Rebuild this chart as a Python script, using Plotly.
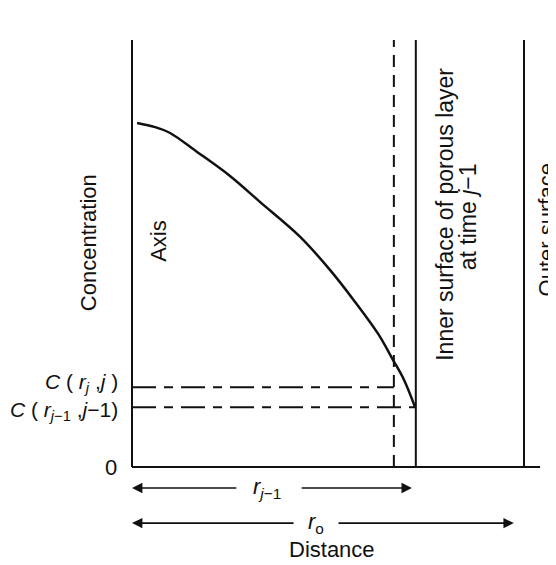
import plotly.graph_objects as go

# ---- data (dimensionless distance / concentration units) ----
curve_r = [0.013, 0.059, 0.097, 0.166, 0.250, 0.327, 0.429, 0.505, 0.569, 0.628, 0.666, 0.694, 0.722]
curve_c = [1.000, 0.988, 0.971, 0.916, 0.846, 0.770, 0.669, 0.573, 0.480, 0.387, 0.311, 0.253, 0.174]

r_j = 0.668        # new inner surface (dashed)
r_jm1 = 0.724      # inner surface of porous layer at time j-1
r_o = 1.0          # outer surface
C_j = 0.232        # C(r_j, j)
C_jm1 = 0.174      # C(r_{j-1}, j-1)
y_top = 1.241
x_end = 1.041

FONT = "Liberation Sans, Arial, Helvetica, sans-serif"
BLACK = "#111111"

fig = go.Figure()

def line(xs, ys, width=2, dash="solid"):
    fig.add_trace(go.Scatter(x=xs, y=ys, mode="lines",
                             line=dict(color=BLACK, width=width, dash=dash),
                             hoverinfo="skip", showlegend=False))

# axes
line([0, 0], [0, y_top], 2)
line([0, x_end], [0, 0], 2)
# surfaces
line([r_j, r_j], [0, y_top], 2, "12px,8px")
line([r_jm1, r_jm1], [0, y_top], 2)
line([r_o, r_o], [0, y_top], 2)
# concentration levels
line([0, r_j], [C_j, C_j], 2, "24px,8px,9px,8px")
line([0, r_jm1], [C_jm1, C_jm1], 2, "24px,8px,9px,8px")
# concentration profile
fig.add_trace(go.Scatter(x=curve_r, y=curve_c, mode="lines",
                         line=dict(color=BLACK, width=2.5, shape="spline", smoothing=1.0),
                         hoverinfo="skip", showlegend=False))

ann = []
def text(x, y, s, size=22, angle=0, xanchor="center", yanchor="middle"):
    ann.append(dict(x=x, y=y, xref="x", yref="y", text=s, showarrow=False,
                    textangle=angle, xanchor=xanchor, yanchor=yanchor,
                    font=dict(family=FONT, size=size, color=BLACK)))

def arrow(x_tail, x_head, y):
    ann.append(dict(x=x_head, y=y, ax=x_tail, ay=y, xref="x", yref="y",
                    axref="x", ayref="y", text="", showarrow=True,
                    arrowhead=2, arrowsize=1.3, arrowwidth=1.6, arrowcolor=BLACK))

text(-0.112, 0.651, "Concentration", angle=-90)
text(0.066, 0.657, "Axis", angle=-90)
text(0.800, 0.735, "Inner surface of porous layer", size=23, angle=-90)
text(0.858, 0.727, "at time <i>j</i>−1", size=23, angle=-90)
text(1.058, 0.690, "Outer surface", angle=-90)
text(0.510, -0.241, "Distance")
text(-0.033, 0.0, "0", xanchor="right")
text(-0.031, C_j + 0.012, "<i>C</i> ( <i>r<sub>j</sub></i> ,<i>j</i> )", size=21, xanchor="right")
text(-0.031, C_jm1 - 0.012, "<i>C</i> ( <i>r<sub>j</sub></i><sub>−1</sub> ,<i>j</i>−1)", size=21, xanchor="right")

y_a1 = -0.061
y_a2 = -0.163
arrow(0.270, 0.0, y_a1)
arrow(0.429, 0.714, y_a1)
text(0.345, y_a1, "<i>r<sub>j</sub></i><sub>−1</sub>", size=22)
arrow(0.416, 0.0, y_a2)
arrow(0.523, 0.974, y_a2)
text(0.469, y_a2, "<i>r</i><sub>o</sub>", size=22)

# the page body adds an 8px offset; compensate in the axis ranges
fig.update_layout(
    width=556, height=565,
    margin=dict(l=0, r=0, t=0, b=0),
    paper_bgcolor="white", plot_bgcolor="white",
    xaxis=dict(range=[-0.3163, 1.1020], visible=False, fixedrange=True),
    yaxis=dict(range=[-0.3081, 1.3343], visible=False, fixedrange=True),
    annotations=ann,
    showlegend=False,
)

fig.write_html("out.html")
